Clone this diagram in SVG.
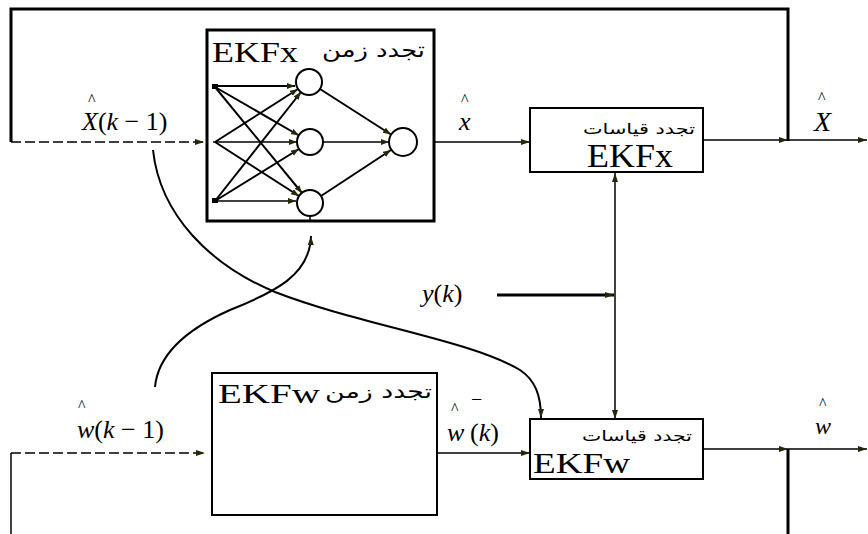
<svg xmlns="http://www.w3.org/2000/svg" width="868" height="534" viewBox="0 0 868 534">
<defs>
<marker id="ah" markerUnits="userSpaceOnUse" markerWidth="10" markerHeight="8" refX="9" refY="3.5" orient="auto-start-reverse">
<path d="M0,0.5 L9,3.5 L0,6.5 z" fill="#26260a"/>
</marker>
<marker id="ahs" markerUnits="userSpaceOnUse" markerWidth="9" markerHeight="7" refX="8" refY="3" orient="auto">
<path d="M0,0 L8,3 L0,6 z" fill="#26260a"/>
</marker>
</defs>
<style>
.ln{fill:none;stroke:#000;stroke-width:1.5}
.thk{fill:none;stroke:#000;stroke-width:3}
.cv{fill:none;stroke:#000;stroke-width:2}
.dash{fill:none;stroke:#000;stroke-width:1.5;stroke-dasharray:10 4}
.box{fill:#fff;stroke:#000;stroke-width:2}
.net{fill:none;stroke:#000;stroke-width:2}
.neu{fill:#fff;stroke:#000;stroke-width:2}
.lat{font-family:"Liberation Serif","Times New Roman",serif;fill:#000}
.ar{font-family:"DejaVu Sans","Noto Sans",sans-serif;fill:#000}
.m{font-family:"Liberation Serif","Times New Roman",serif;fill:#000;font-size:26px}
.i{font-style:italic}
.hat{font-size:16px;font-style:normal}
</style>
<rect width="868" height="534" fill="#fff"/>

<g id="connectors">
<polyline class="thk" points="788,141 788,9 11,9 11,142"/>
<line class="dash" x1="11" y1="142" x2="204" y2="142" marker-end="url(#ah)"/>
<line class="ln" x1="417" y1="142" x2="530" y2="142" marker-end="url(#ah)"/>
<line class="ln" x1="703" y1="140" x2="788" y2="140" marker-end="url(#ah)"/>
<line class="ln" x1="788" y1="140" x2="867" y2="140" marker-end="url(#ah)"/>
<line class="ln" x1="615" y1="173" x2="615" y2="419" marker-start="url(#ah)" marker-end="url(#ah)"/>
<line class="thk" x1="497" y1="295" x2="614" y2="295" marker-end="url(#ah)"/>
<line class="dash" x1="11" y1="453" x2="205" y2="453" marker-end="url(#ah)"/>
<line class="ln" x1="11" y1="453" x2="11" y2="534"/>
<line class="ln" x1="212" y1="453" x2="370" y2="453" marker-end="url(#ah)"/>
<line class="ln" x1="376" y1="453" x2="530" y2="453" marker-end="url(#ah)"/>
<line class="ln" x1="703" y1="449" x2="788" y2="449" marker-end="url(#ah)"/>
<line class="ln" x1="788" y1="449" x2="867" y2="449" marker-end="url(#ah)"/>
<line class="thk" x1="788" y1="449" x2="788" y2="534"/>
<path class="cv" d="M153,150 C160,215 210,265 275,292 C360,325 470,340 520,370 C535,380 541,395 541,418" marker-end="url(#ah)"/>
<path class="cv" d="M155,387 C158,355 185,330 230,310 C275,292 310,275 311,236" marker-end="url(#ah)"/>
</g>

<g id="ekfx-time">
<rect class="box" x="207" y="30" width="227" height="191" style="stroke-width:3"/>
<text class="lat" x="212" y="62" font-size="30" textLength="86" lengthAdjust="spacingAndGlyphs">EKFx</text>
<text class="ar" x="322" y="57" font-size="20" textLength="103" lengthAdjust="spacingAndGlyphs">تجدد زمن</text>
<g id="nn">
<rect x="212" y="84" width="6" height="5" fill="#000"/>
<rect x="212" y="198" width="6" height="5" fill="#000"/>
<line class="net" x1="215" y1="86" x2="295" y2="86" marker-end="url(#ahs)"/>
<line class="net" x1="215" y1="87" x2="299" y2="135.5" marker-end="url(#ahs)"/>
<line class="net" x1="215" y1="87" x2="302" y2="193" marker-end="url(#ahs)"/>
<line class="net" x1="215" y1="142" x2="298" y2="89" marker-end="url(#ahs)"/>
<line class="ln" x1="213" y1="142" x2="297" y2="142" marker-end="url(#ahs)"/>
<line class="net" x1="215" y1="142" x2="299" y2="196" marker-end="url(#ahs)"/>
<line class="net" x1="215" y1="201" x2="301" y2="92" marker-end="url(#ahs)"/>
<line class="net" x1="215" y1="201" x2="299" y2="149" marker-end="url(#ahs)"/>
<line class="ln" x1="215" y1="201" x2="296" y2="201" marker-end="url(#ahs)"/>
<line class="net" x1="320" y1="89" x2="391" y2="134.5" marker-end="url(#ahs)"/>
<line class="ln" x1="323" y1="142" x2="389" y2="142" marker-end="url(#ahs)"/>
<line class="net" x1="321" y1="196" x2="391" y2="150" marker-end="url(#ahs)"/>
<line class="ln" x1="310" y1="216" x2="310" y2="221"/>
<circle class="neu" cx="309" cy="82" r="13"/>
<circle class="neu" cx="310" cy="142" r="13"/>
<circle class="neu" cx="310" cy="203" r="13"/>
<circle class="neu" cx="403" cy="142" r="14"/>
</g>
</g>

<g id="ekfx-meas">
<rect class="box" x="530" y="108" width="173" height="64"/>
<text class="ar" x="583" y="134" font-size="15" textLength="112" lengthAdjust="spacingAndGlyphs">تجدد قياسات</text>
<text class="lat" x="587" y="167" font-size="33" textLength="86" lengthAdjust="spacingAndGlyphs">EKFx</text>
</g>

<g id="ekfw-time">
<rect class="box" x="212" y="373" width="225" height="142"/>
<text class="lat" x="218" y="403" font-size="27" textLength="102" lengthAdjust="spacingAndGlyphs">EKFw</text>
<text class="ar" x="325" y="398" font-size="19" textLength="107" lengthAdjust="spacingAndGlyphs">تجدد زمن</text>
</g>

<g id="ekfw-meas">
<rect class="box" x="530" y="419" width="173" height="60"/>
<text class="ar" x="582" y="441" font-size="15" textLength="110" lengthAdjust="spacingAndGlyphs">تجدد قياسات</text>
<text class="lat" x="533" y="473" font-size="30" textLength="97" lengthAdjust="spacingAndGlyphs">EKFw</text>
</g>

<g id="labels">
<text class="m"><tspan class="hat" x="88" y="105">^</tspan><tspan class="i" x="82" y="130">X</tspan><tspan>(</tspan><tspan class="i">k</tspan><tspan> − 1)</tspan></text>

<text class="m"><tspan class="hat" x="461" y="105">^</tspan><tspan class="i" x="459" y="130">x</tspan></text>

<text class="m"><tspan class="hat" x="818" y="102.5">^</tspan><tspan class="i" x="814" y="131" font-size="28">X</tspan></text>

<text class="m" x="422" y="302"><tspan class="i">y</tspan>(<tspan class="i">k</tspan>)</text>

<text class="m"><tspan class="hat" x="78" y="411">^</tspan><tspan class="i" x="77" y="438">w</tspan><tspan>(</tspan><tspan class="i">k</tspan><tspan> − 1)</tspan></text>

<text class="m"><tspan class="hat" x="451" y="414">^</tspan><tspan x="471" y="406" font-size="20">−</tspan><tspan class="i" x="447" y="441">w</tspan><tspan x="470" y="441">(</tspan><tspan class="i">k</tspan><tspan>)</tspan></text>

<text class="m"><tspan class="hat" x="819" y="409">^</tspan><tspan class="i" x="815" y="434" font-size="24">w</tspan></text>
</g>
</svg>
